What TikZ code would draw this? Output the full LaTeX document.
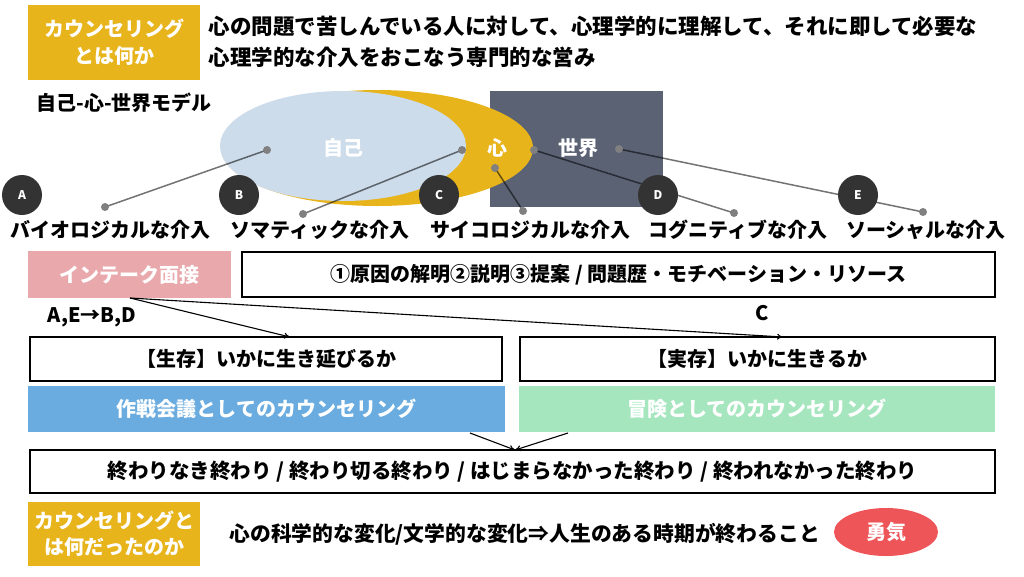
\documentclass[tikz,border=0pt]{standalone}
\usepackage{fontspec}
\setmainfont{Noto Sans CJK JP}
\usetikzlibrary{arrows.meta,shapes.geometric}

\definecolor{kinGold}{HTML}{E8B41C}
\definecolor{jikoBlue}{HTML}{CDDCEB}
\definecolor{sekaiSlate}{HTML}{5A6274}
\definecolor{intakePink}{HTML}{E8A8AC}
\definecolor{sakusenBlue}{HTML}{6AACDF}
\definecolor{boukenGreen}{HTML}{A6E6BE}
\definecolor{yukiRed}{HTML}{EE5558}
\definecolor{maruDark}{HTML}{333333}

\tikzset{
	jp/.style={font=\fontsize{20}{30}\selectfont\bfseries},
	wbox/.style={draw=black, line width=1.8pt, fill=white, inner sep=0pt, jp},
	cbox/.style={inner sep=0pt, text=white, jp},
	maru/.style={circle, fill=maruDark, minimum size=40pt, inner sep=0pt,
		text=white, font=\fontsize{12}{12}\selectfont\bfseries},
	pin/.style={circle, fill=gray, minimum size=8pt, inner sep=0pt},
	leader/.style={draw=black, opacity=0.55, line width=1.5pt},
	flow/.style={draw=black, line width=1.1pt, -{To[length=6pt,width=6pt]}},
}

\begin{document}
\begin{tikzpicture}[x=1pt,y=-1pt]

	\useasboundingbox (0,0) rectangle (1024,576);

	% definition
	\node[cbox, fill=kinGold, minimum width=172pt, minimum height=75pt, align=center] (q1) at (114,42)
		{カウンセリング\\[-3pt]とは何か};
	\node[jp, anchor=west, align=left, font=\fontsize{21.5}{31}\selectfont\bfseries] (teigi) at (205,42)
		{心の問題で苦しんでいる人に対して、心理学的に理解して、それに即して必要な\\心理学的な介入をおこなう専門的な営み};

	\node[jp, anchor=west] (model) at (33,103) {自己-心-世界モデル};

	% model
	\node[rectangle, fill=sekaiSlate, minimum width=173pt, minimum height=116pt, inner sep=0pt] (sekai) at (576.5,149) {};
	\node[ellipse, fill=kinGold, minimum width=312pt, minimum height=116pt, inner sep=0pt] (kokoro) at (377,148) {};
	\node[ellipse, fill=jikoBlue, minimum width=246pt, minimum height=110pt, inner sep=0pt] (jiko) at (343,146) {};
	\node[cbox] (jikoL) at (343,148) {自己};
	\node[cbox] (kokoroL) at (497,148) {心};
	\node[cbox] (sekaiL) at (578,148) {世界};

	\coordinate (A0) at (267,150);
	\coordinate (A1) at (105,207);
	\coordinate (B0) at (462,150);
	\coordinate (B1) at (303,214);
	\coordinate (C0) at (495,168);
	\coordinate (C1) at (523,211);
	\coordinate (D0) at (534,150);
	\coordinate (D1) at (734,213);
	\coordinate (E0) at (619,149);
	\coordinate (E1) at (923,212);

	\foreach \k in {A,B,C,D,E} {
		\draw[leader] (\k0) -- (\k1);
		\node[pin] at (\k0) {};
		\node[pin] at (\k1) {};
	}

	\node[maru] (mA) at (22,195) {A};
	\node[maru] (mB) at (239,195) {B};
	\node[maru] (mC) at (439,195) {C};
	\node[maru] (mD) at (658,195) {D};
	\node[maru] (mE) at (858,195) {E};

	\node[jp] (bio) at (110,230) {バイオロジカルな介入};
	\node[jp] (soma) at (320,230) {ソマティックな介入};
	\node[jp] (psy) at (530,230) {サイコロジカルな介入};
	\node[jp] (cog) at (738,230) {コグニティブな介入};
	\node[jp] (soc) at (926,230) {ソーシャルな介入};

	% intake
	\node[cbox, fill=intakePink, minimum width=203pt, minimum height=47pt] (intake) at (129.5,274.5) {インテーク面接};
	\node[wbox, minimum width=753pt, minimum height=45pt] (kaimei) at (618.5,274.5)
		{①原因の解明②説明③提案 / 問題歴・モチベーション・リソース};
	\node[jp] (AEBD) at (92,317) {A,E→B,D};
	\node[jp] (Cl) at (762,313) {C};

	\node[wbox, minimum width=472pt, minimum height=44pt] (seizon) at (266,359) {【生存】いかに生き延びるか};
	\node[wbox, minimum width=475pt, minimum height=44pt] (jitsuzon) at (757.5,359) {【実存】いかに生きるか};

	\coordinate (fork) at (130,298);
	\draw[flow] (fork) -- (290,337);
	\draw[flow] (fork) -- (783,337);

	\node[cbox, fill=sakusenBlue, minimum width=477pt, minimum height=46pt] (sakusen) at (266.5,409) {作戦会議としてのカウンセリング};
	\node[cbox, fill=boukenGreen, minimum width=476pt, minimum height=46pt] (bouken) at (757,409) {冒険としてのカウンセリング};

	% ending
	\node[wbox, minimum width=965pt, minimum height=43pt, font=\fontsize{20.5}{24}\selectfont\bfseries] (owari) at (512.5,471.5)
		{終わりなき終わり / 終わり切る終わり / はじまらなかった終わり / 終われなかった終わり};

	\coordinate (meet) at (515,450);
	\draw[flow] (470,433) -- (meet);
	\draw[flow] (568,433) -- (meet);

	\node[cbox, fill=kinGold, minimum width=172pt, minimum height=64pt, align=center] (q2) at (114,534)
		{カウンセリングと\\[-4pt]は何だったのか};
	\node[jp, anchor=west, font=\fontsize{20.8}{24}\selectfont\bfseries] (henka) at (226,534) {心の科学的な変化/文学的な変化⇒人生のある時期が終わること};
	\node[ellipse, fill=yukiRed, minimum width=104pt, minimum height=48pt, inner sep=0pt, text=white, jp] (yuki) at (886,532) {勇気};

\end{tikzpicture}
\end{document}
